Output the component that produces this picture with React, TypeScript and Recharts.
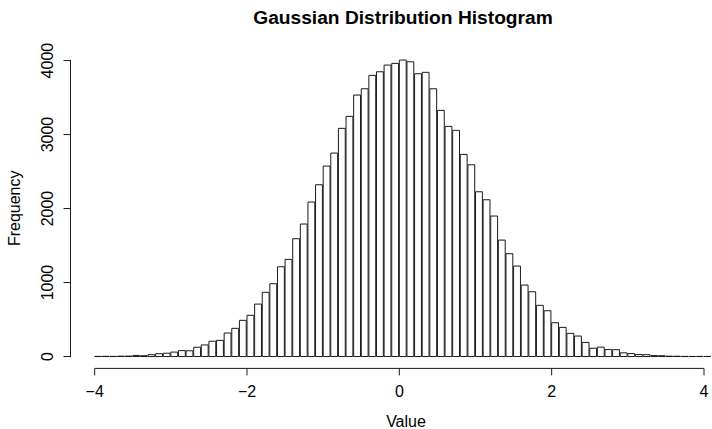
import { BarChart, Bar, XAxis, YAxis, ReferenceLine, Label } from 'recharts'

// histogram: bins of width 0.1 starting at -4
const BIN_START = -4
const BIN_WIDTH = 0.1
const COUNTS = [
  2, 3, 2, 5, 6, 15, 11, 25, 38, 45,
  60, 80, 78, 126, 157, 207, 219, 318, 381, 489,
  557, 709, 868, 984, 1213, 1313, 1592, 1791, 2088, 2322,
  2574, 2750, 3084, 3246, 3534, 3619, 3800, 3849, 3939, 3962,
  4007, 3984, 3822, 3841, 3619, 3327, 3111, 3057, 2732, 2592,
  2227, 2119, 1899, 1574, 1390, 1223, 966, 876, 692, 619,
  457, 394, 313, 277, 191, 112, 127, 94, 93, 50,
  40, 27, 25, 13, 11, 5, 4, 2, 1, 2,
  1,
]
const X_TICKS = [-4, -2, 0, 2, 4]
const Y_TICKS = [0, 1000, 2000, 3000, 4000]
const TITLE = 'Gaussian Distribution Histogram'
const X_LABEL = 'Value'
const Y_LABEL = 'Frequency'

const W = 712
const H = 429
const PLOT_LEFT = 70
const PLOT_TOP = 48.2
const PLOT_BOTTOM = 368.4
const X_DOMAIN: [number, number] = [-4.324, 4.105]
const Y_DOMAIN: [number, number] = [-160.3, 4167.3]
const FONT = '"Liberation Sans", Arial, Helvetica, sans-serif'
const INK = '#1a1a1a'
const AXIS_X = PLOT_LEFT + 0.5

const data = COUNTS.map((count, i) => ({ mid: +(BIN_START + (i + 0.5) * BIN_WIDTH).toFixed(2), count }))

const PX_PER_UNIT = (W - PLOT_LEFT) / (X_DOMAIN[1] - X_DOMAIN[0])
const BAR_PX = BIN_WIDTH * PX_PER_UNIT
const PX_PER_COUNT = (PLOT_BOTTOM - PLOT_TOP) / (Y_DOMAIN[1] - Y_DOMAIN[0])
const Y_STEP_PX = (Y_TICKS[1] - Y_TICKS[0]) * PX_PER_COUNT
const Y_LAST = Y_TICKS[Y_TICKS.length - 1]
const yPx = (v: number) => PLOT_TOP + (Y_DOMAIN[1] - v) * PX_PER_COUNT
const Y_LINE_TOP = yPx(Y_LAST)
const Y_LINE_BOTTOM = yPx(Y_TICKS[0])

const fmtX = (v: number) => (v < 0 ? `\u2212${Math.abs(v)}` : String(v))

// R-style y tick: mark, rotated label and the axis piece up to the next tick
const YTick = (props: any) => {
  const x = Number(props.x)
  const y = Number(props.y)
  const v = Number(props.payload.value)
  return (
    <g>
      <path d={`M${AXIS_X - 7},${y}H${AXIS_X}`} stroke={INK} fill="none" />
      {v < Y_LAST && <path d={`M${AXIS_X},${y + 0.5}V${y - Y_STEP_PX - 0.5}`} stroke={INK} fill="none" />}
      <text x={x} y={y} transform={`rotate(-90, ${x}, ${y})`} textAnchor="middle" fontSize={16} fontFamily={FONT} fill="#000">
        {v}
      </text>
    </g>
  )
}

const XTick = ({ x, y, payload }: any) => (
  <g>
    <line x1={x} x2={x} y1={PLOT_BOTTOM} y2={PLOT_BOTTOM + 7} stroke={INK} />
    <text x={x} y={y} dy={11.4} textAnchor="middle" fontSize={16} fontFamily={FONT} fill="#000">
      {fmtX(payload.value)}
    </text>
  </g>
)

const YTitle = ({ viewBox }: any) => {
  const cy = viewBox.y + viewBox.height / 2
  return (
    <text x={20} y={cy} transform={`rotate(-90, 20, ${cy})`} textAnchor="middle" fontSize={16} fontFamily={FONT} fill="#000">
      {Y_LABEL}
    </text>
  )
}

const XTitle = ({ viewBox }: any) => (
  <text x={406} y={viewBox.y + viewBox.height - 2.5} textAnchor="middle" fontSize={16} fontFamily={FONT} fill="#000">
    {X_LABEL}
  </text>
)

export default function App() {
  return (
    <div style={{ position: 'absolute', left: 0, top: 0, width: W, height: H, background: '#fff' }}>
      <div style={{ position: 'absolute', left: 203, top: 8.3, width: 400, textAlign: 'center', fontFamily: FONT, fontWeight: 'bold', fontSize: 19.2, lineHeight: '19.2px', color: '#000' }}>
        {TITLE}
      </div>
      <BarChart width={W} height={H} data={data} barCategoryGap={0} margin={{ top: PLOT_TOP, right: 0, bottom: 0, left: 0 }}>
        <XAxis
          dataKey="mid"
          type="number"
          domain={X_DOMAIN}
          allowDataOverflow
          ticks={X_TICKS}
          interval={0}
          height={H - PLOT_BOTTOM}
          axisLine={false}
          tickLine={false}
          tickSize={7}
          tickMargin={10}
          tick={<XTick />}
        >
          <Label content={XTitle} />
        </XAxis>
        <YAxis
          width={PLOT_LEFT}
          domain={Y_DOMAIN}
          allowDataOverflow
          ticks={Y_TICKS}
          interval={0}
          axisLine={false}
          tickLine={false}
          tickSize={7}
          tickMargin={9.5}
          tick={<YTick />}
        >
          <Label content={YTitle} />
        </YAxis>
        <Bar dataKey="count" barSize={BAR_PX} fill="#fff" stroke={INK} strokeWidth={1} isAnimationActive={false} />
        <ReferenceLine ifOverflow="visible" stroke={INK} segment={[{ x: X_TICKS[0], y: Y_DOMAIN[0] }, { x: X_TICKS[X_TICKS.length - 1], y: Y_DOMAIN[0] }]} />
      </BarChart>
      <div style={{ position: 'absolute', left: AXIS_X - 0.5, top: Y_LINE_TOP - 0.5, width: 1, height: Y_LINE_BOTTOM - Y_LINE_TOP + 1, background: INK }} />
    </div>
  )
}
